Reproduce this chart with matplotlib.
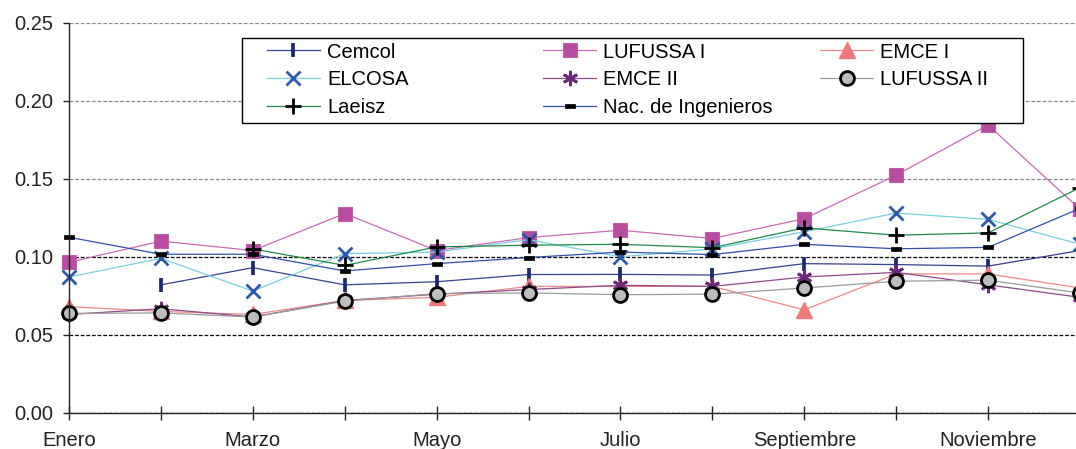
import numpy as np
import matplotlib
matplotlib.use("Agg")
import matplotlib.pyplot as plt
from matplotlib.patches import Rectangle

plt.rcParams["font.family"] = ["Liberation Sans", "DejaVu Sans"]

# data
months = ["Enero", "Febrero", "Marzo", "Abril", "Mayo", "Junio", "Julio",
          "Agosto", "Septiembre", "Octubre", "Noviembre", "Diciembre"]
nan = np.nan
cemcol = [nan, 0.082, 0.093, 0.082, 0.084, 0.0886, 0.0887, 0.0883, 0.0956, 0.095, 0.094, 0.104]
lufussa_1 = [0.0965, 0.110, 0.104, 0.1277, 0.104, 0.1123, 0.117, 0.1117, 0.1244, 0.1523, 0.1844, 0.1305]
emce_1 = [0.068, 0.065, 0.063, 0.072, 0.074, 0.081, 0.081, 0.081, 0.066, 0.089, 0.089, 0.080]
elcosa = [0.087, 0.099, 0.078, 0.102, 0.103, 0.111, 0.100, 0.105, 0.116, 0.128, 0.124, 0.108]
emce_2 = [0.063, 0.0667, 0.0614, 0.072, 0.076, 0.079, 0.0817, 0.081, 0.087, 0.090, 0.082, 0.074]
lufussa_2 = [0.0637, 0.064, 0.0614, 0.0716, 0.0764, 0.0768, 0.0757, 0.076, 0.080, 0.0843, 0.085, 0.0768]
laeisz = [nan, nan, 0.105, 0.0945, 0.1063, 0.1074, 0.108, 0.1058, 0.1185, 0.1138, 0.1153, 0.1443]
nac_ing = [0.1125, 0.1016, 0.1016, 0.0909, 0.0956, 0.0995, 0.103, 0.1014, 0.108, 0.1051, 0.106, 0.131]

W, H = 1076, 449
fig = plt.figure(figsize=(W / 100, H / 100), dpi=100)
ax = fig.add_axes([69 / W, 1 - 412.8 / H, 1011 / W, (412.8 - 22.7) / H])

x = np.arange(len(months))
dash = [(-1, -0.45), (1, -0.45), (1, 0.45), (-1, 0.45), (-1, -0.45)]

series = [
    ("Cemcol", cemcol, dict(color="#34418a", marker="|", ms=9.5, mew=2.7, mec="#1b2a6b")),
    ("LUFUSSA I", lufussa_1, dict(color="#c86ab8", marker="s", ms=10, mfc="#b84c9e", mec="#c060a8", mew=0.8)),
    ("EMCE I", emce_1, dict(color="#f08888", marker="^", ms=11, mfc="#f07a7a", mec="#f07a7a")),
    ("ELCOSA", elcosa, dict(color="#78d0e0", marker="x", ms=10, mew=2, mec="#2d5aa8")),
    ("EMCE II", emce_2, dict(color="#8c4a8c", marker=(6, 2, 0), ms=11, mew=2, mec="#6b2a78")),
    ("LUFUSSA II", lufussa_2, dict(color="#9a9a9a", marker="o", ms=10, mfc="#bdbdbd", mec="black", mew=2)),
    ("Laeisz", laeisz, dict(color="#1e8a4a", marker="+", ms=11, mew=2, mec="black")),
    ("Nac. de Ingenieros", nac_ing, dict(color="#3050a8", marker=dash, ms=7.5, mfc="black", mec="black", mew=0.5)),
]

handles = []
for name, vals, st in series:
    ln, = ax.plot(x, vals, lw=0.9, label=name, clip_on=False, **st)
    handles.append(ln)

ax.set_xlim(0, 11)
ax.set_ylim(0, 0.25)
ax.set_yticks(np.arange(0, 0.26, 0.05))
ax.set_yticklabels(["%.2f" % v for v in np.arange(0, 0.26, 0.05)])
ax.set_xticks(x)
ax.set_xticklabels([m if i % 2 == 0 else "" for i, m in enumerate(months)])

ax.tick_params(axis="x", direction="inout", length=9.5, width=1, pad=8,
               labelsize=14.5, colors="#222222")
ax.tick_params(axis="y", direction="out", length=4.5, width=1, pad=7,
               labelsize=14.5, colors="#222222")

ax.grid(axis="y", linestyle=(0, (3, 1.5)), linewidth=0.9)
for g, v in zip(ax.get_ygridlines(), ax.get_yticks()):
    g.set_color("#888888" if v > 0.12 else "black")

for s in ["top", "right"]:
    ax.spines[s].set_visible(False)
for s in ["left", "bottom"]:
    ax.spines[s].set_color("#222222")
    ax.spines[s].set_linewidth(1)

# legend: framed box with three columns
fig.add_artist(Rectangle((241.7 / W, 1 - 122.7 / H), (1023 - 241.7) / W, 85 / H,
                         transform=fig.transFigure, facecolor="white",
                         edgecolor="black", lw=1, zorder=4))
col_x = [266.7, 543, 820]
for c in range(3):
    hs = handles[c::3]
    fig.legend(handles=hs, labels=[h.get_label() for h in hs],
               loc="upper left", bbox_to_anchor=(col_x[c] / W, 1 - 42.5 / H),
               bbox_transform=fig.transFigure, frameon=False, fontsize=14.5,
               handlelength=2.65, handletextpad=0.35, labelspacing=0.43,
               borderpad=0, borderaxespad=0, numpoints=1)

fig.savefig("out.png", dpi=100)
